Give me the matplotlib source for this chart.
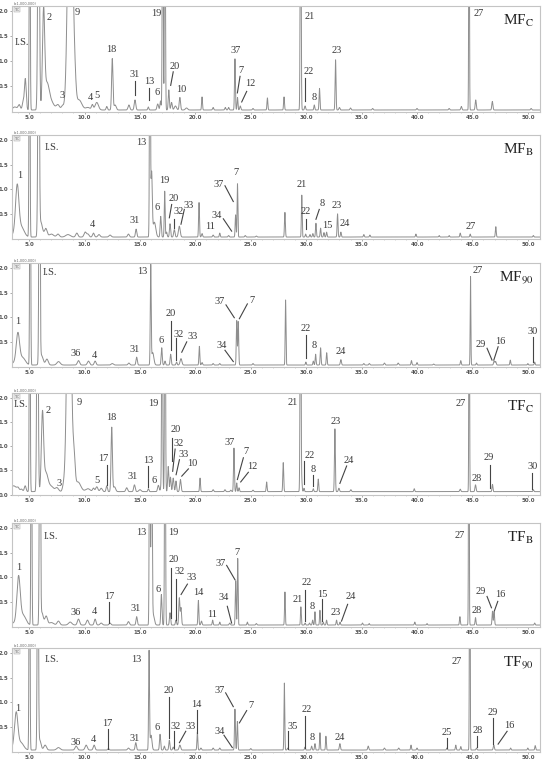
import numpy as np
import matplotlib
matplotlib.use("Agg")
import matplotlib.pyplot as plt

plt.rcParams['mathtext.fontset'] = 'stix'

# ---------------------------------------------------------
# peak tables: (time min, height x1e6, sigma min)
# heights > 2.1 are off scale (clipped at the frame)
# ---------------------------------------------------------
mfc_peaks = [(3.7, 0.06, 0.2), (4.1, 0.1, 0.1), (4.45, 0.15, 0.08), (4.65, 0.62, 0.08),
             (5.05, 6, 0.04), (5.85, 6, 0.07), (6.3, 1.9, 0.1), (6.6, 0.5, 0.2), (7.0, 0.15, 0.25),
             (7.6, 0.1, 0.15), (8.0, 0.08, 0.1), (8.7, 6, 0.2), (9.1, 0.45, 0.12), (9.5, 0.2, 0.25),
             (10.3, 0.05, 0.2), (10.7, 0.1, 0.08), (11.1, 0.15, 0.15), (12.0, 0.07, 0.06),
             (12.5, 1.02, 0.06), (12.75, 0.1, 0.1), (14.0, 0.1, 0.08), (14.55, 0.2, 0.07),
             (15.75, 0.06, 0.05), (16.6, 0.12, 0.07), (16.85, 0.18, 0.05), (17.05, 6, 0.04),
             (17.25, 6, 0.04), (17.6, 0.4, 0.05), (17.85, 0.15, 0.06), (18.2, 0.08, 0.1),
             (18.6, 0.25, 0.06), (19.2, 0.04, 0.1), (20.6, 0.26, 0.04), (21.6, 0.05, 0.05),
             (22.7, 0.05, 0.05), (23.0, 0.05, 0.05), (23.57, 1.02, 0.04), (23.8, 0.25, 0.04),
             (24.05, 0.08, 0.05), (25.2, 0.03, 0.05), (26.5, 0.24, 0.04), (28.0, 0.26, 0.04),
             (29.5, 6, 0.04), (29.9, 0.08, 0.05), (30.73, 0.1, 0.04), (31.2, 0.43, 0.04),
             (32.65, 1.0, 0.04), (33.0, 0.05, 0.05), (34.0, 0.04, 0.05), (36.0, 0.03, 0.05),
             (40.0, 0.03, 0.05), (42.9, 0.03, 0.05), (44.0, 0.07, 0.05), (44.7, 6, 0.03),
             (45.3, 0.2, 0.05), (46.8, 0.17, 0.05), (50.3, 0.03, 0.05)]

mfb_peaks = [(3.6, 0.05, 0.2), (3.92, 1.0, 0.15), (4.3, 0.2, 0.25), (5.03, 6, 0.04),
             (5.85, 6, 0.06), (6.05, 0.3, 0.15), (6.5, 0.17, 0.12), (7.0, 0.06, 0.2),
             (7.6, 0.06, 0.12), (8.5, 0.05, 0.2), (9.3, 0.08, 0.1), (10.05, 0.1, 0.1),
             (10.3, 0.06, 0.1), (10.8, 0.08, 0.08), (11.3, 0.05, 0.1), (12.3, 0.04, 0.1),
             (13.96, 0.06, 0.08), (14.65, 0.16, 0.06), (15.9, 6, 0.04), (16.05, 1.3, 0.06),
             (16.3, 0.3, 0.12), (16.87, 0.42, 0.05), (17.23, 0.93, 0.04), (17.4, 0.1, 0.05),
             (17.71, 0.27, 0.05), (18.1, 0.15, 0.06), (18.55, 0.22, 0.08), (20.33, 0.7, 0.04),
             (20.6, 0.07, 0.05), (21.6, 0.04, 0.05), (22.2, 0.08, 0.04), (23.0, 0.03, 0.05),
             (23.63, 0.45, 0.04), (23.8, 1.08, 0.035), (24.5, 0.03, 0.05), (25.5, 0.02, 0.05),
             (28.08, 0.5, 0.04), (29.6, 0.85, 0.035), (29.95, 0.06, 0.04), (30.34, 0.05, 0.04),
             (30.6, 0.07, 0.04), (30.88, 0.28, 0.04), (31.3, 0.18, 0.04), (31.6, 0.09, 0.04),
             (31.84, 0.1, 0.04), (32.83, 0.47, 0.04), (33.13, 0.1, 0.04), (35.2, 0.05, 0.04),
             (35.75, 0.04, 0.04), (39.9, 0.06, 0.04), (42.0, 0.03, 0.04), (42.9, 0.03, 0.04),
             (43.9, 0.08, 0.04), (44.8, 0.06, 0.04), (47.11, 0.21, 0.04), (50.5, 0.03, 0.04)]

mf90_peaks = [(3.6, 0.04, 0.2), (3.98, 0.62, 0.15), (4.4, 0.15, 0.25), (5.09, 6, 0.04),
              (5.93, 6, 0.05), (6.1, 0.2, 0.15), (6.6, 0.12, 0.12), (7.65, 0.07, 0.15),
              (9.45, 0.09, 0.1), (10.35, 0.08, 0.1), (10.95, 0.08, 0.08), (12.5, 0.03, 0.1),
              (14.0, 0.04, 0.08), (14.7, 0.16, 0.06), (15.97, 2.0, 0.04), (16.15, 0.25, 0.1),
              (16.96, 0.35, 0.05), (17.26, 0.08, 0.05), (17.77, 0.22, 0.05), (18.3, 0.06, 0.05),
              (18.7, 0.13, 0.08), (20.36, 0.38, 0.04), (20.6, 0.05, 0.05), (21.6, 0.03, 0.05),
              (22.2, 0.03, 0.05), (23.73, 0.9, 0.04), (23.87, 0.88, 0.04), (25.2, 0.03, 0.05),
              (28.14, 1.32, 0.035), (29.97, 0.06, 0.04), (30.64, 0.08, 0.04), (30.85, 0.22, 0.04),
              (31.3, 0.35, 0.04), (31.85, 0.25, 0.04), (33.13, 0.11, 0.05), (35.2, 0.03, 0.05),
              (35.7, 0.03, 0.05), (37.06, 0.04, 0.05), (38.3, 0.04, 0.05), (39.5, 0.09, 0.04),
              (40.0, 0.05, 0.04), (41.5, 0.02, 0.05), (43.95, 0.09, 0.04), (44.83, 1.8, 0.03),
              (45.37, 0.04, 0.04), (46.96, 0.08, 0.05), (47.1, 0.07, 0.05), (48.42, 0.1, 0.04),
              (50.0, 0.03, 0.04), (50.62, 0.06, 0.04)]

tfc_peaks = [(3.6, 0.12, 0.25), (4.0, 0.06, 0.1), (4.3, 0.05, 0.1), (4.64, 0.12, 0.08),
             (5.05, 6, 0.04), (5.75, 6, 0.06), (6.2, 1.55, 0.1), (6.5, 0.4, 0.2), (7.0, 0.1, 0.2),
             (7.5, 0.08, 0.15), (8.1, 0.1, 0.1), (8.6, 6, 0.18), (9.05, 0.6, 0.1), (9.4, 0.2, 0.25),
             (10.3, 0.06, 0.2), (10.8, 0.07, 0.08), (11.1, 0.1, 0.1), (11.5, 0.07, 0.1),
             (12.0, 0.12, 0.06), (12.45, 1.33, 0.06), (12.7, 0.1, 0.1), (13.8, 0.08, 0.08),
             (14.5, 0.14, 0.07), (15.0, 0.04, 0.1), (15.76, 0.06, 0.05), (16.66, 0.13, 0.07),
             (16.9, 0.1, 0.05), (17.0, 6, 0.04), (17.26, 6, 0.04), (17.55, 0.52, 0.05),
             (17.75, 0.3, 0.05), (18.0, 0.28, 0.06), (18.25, 0.22, 0.05), (18.65, 0.25, 0.06),
             (20.42, 0.28, 0.04), (21.6, 0.04, 0.05), (22.67, 0.04, 0.05), (23.2, 0.03, 0.05),
             (23.48, 0.9, 0.04), (23.73, 0.18, 0.04), (23.94, 0.08, 0.04), (25.2, 0.03, 0.05),
             (26.43, 0.2, 0.04), (27.93, 0.6, 0.04), (29.49, 6, 0.04), (29.6, 0.2, 0.04),
             (29.8, 0.07, 0.04), (30.64, 0.06, 0.04), (31.09, 0.26, 0.04), (32.59, 1.3, 0.04),
             (32.95, 0.07, 0.05), (34.03, 0.04, 0.05), (39.75, 0.06, 0.04), (43.9, 0.05, 0.05),
             (44.71, 6, 0.03), (45.28, 0.14, 0.05), (46.81, 0.15, 0.04), (50.5, 0.04, 0.04)]

tfb_peaks = [(3.6, 0.04, 0.2), (4.04, 0.95, 0.15), (4.45, 0.2, 0.25), (5.2, 6, 0.04),
             (5.97, 6, 0.05), (6.15, 0.25, 0.12), (6.53, 0.18, 0.12), (7.0, 0.05, 0.2),
             (7.64, 0.08, 0.12), (8.7, 0.06, 0.15), (9.45, 0.12, 0.1), (10.26, 0.1, 0.1),
             (10.95, 0.12, 0.08), (11.5, 0.04, 0.1), (12.3, 0.04, 0.08), (13.96, 0.07, 0.08),
             (14.7, 0.17, 0.06), (15.88, 6, 0.04), (16.05, 4, 0.05), (16.2, 0.2, 0.1),
             (16.93, 0.62, 0.05), (17.26, 6, 0.04), (17.71, 0.25, 0.05), (18.25, 0.1, 0.05),
             (18.55, 0.55, 0.05), (18.7, 0.35, 0.05), (20.27, 0.5, 0.04), (20.55, 0.08, 0.05),
             (21.56, 0.1, 0.04), (22.2, 0.06, 0.04), (23.1, 0.04, 0.05), (23.64, 0.9, 0.04),
             (23.82, 1.35, 0.035), (24.69, 0.06, 0.04), (25.5, 0.03, 0.05), (28.08, 0.67, 0.035),
             (29.52, 0.37, 0.035), (29.9, 0.04, 0.04), (30.3, 0.04, 0.04), (30.58, 0.1, 0.04),
             (30.79, 0.27, 0.035), (31.24, 0.3, 0.035), (31.54, 0.06, 0.04), (31.84, 0.1, 0.04),
             (32.74, 0.1, 0.04), (33.05, 0.06, 0.04), (35.08, 0.04, 0.04), (35.68, 0.03, 0.04),
             (39.8, 0.06, 0.04), (40.9, 0.03, 0.04), (43.87, 0.17, 0.04), (44.68, 6, 0.03),
             (45.28, 0.15, 0.04), (46.81, 0.28, 0.04), (46.96, 0.28, 0.04), (50.62, 0.04, 0.04)]

tf90_peaks = [(3.6, 0.04, 0.2), (3.83, 0.72, 0.15), (4.25, 0.15, 0.25), (5.03, 6, 0.04),
              (5.78, 6, 0.05), (5.95, 0.2, 0.12), (6.44, 0.1, 0.12), (7.64, 0.05, 0.15),
              (9.24, 0.08, 0.1), (10.14, 0.1, 0.1), (10.86, 0.1, 0.08), (12.15, 0.03, 0.06),
              (13.96, 0.04, 0.08), (14.62, 0.15, 0.06), (15.82, 2.0, 0.04), (16.0, 0.3, 0.08),
              (16.81, 0.32, 0.05), (17.2, 0.08, 0.05), (17.65, 0.2, 0.05), (18.0, 0.06, 0.05),
              (18.6, 0.1, 0.07), (20.18, 0.36, 0.04), (20.5, 0.04, 0.05), (21.6, 0.04, 0.05),
              (22.2, 0.04, 0.05), (23.57, 0.83, 0.04), (23.79, 0.58, 0.04), (25.0, 0.03, 0.05),
              (28.03, 1.36, 0.035), (28.33, 0.04, 0.04), (29.89, 0.06, 0.04), (30.49, 0.08, 0.04),
              (30.79, 0.13, 0.04), (31.24, 0.35, 0.035), (31.78, 0.28, 0.035), (33.04, 0.13, 0.05),
              (35.6, 0.08, 0.05), (37.06, 0.04, 0.05), (38.35, 0.04, 0.05), (39.46, 0.1, 0.04),
              (40.0, 0.04, 0.04), (42.7, 0.04, 0.04), (43.5, 0.1, 0.04), (43.95, 0.07, 0.04),
              (44.76, 6, 0.03), (45.37, 0.04, 0.04), (46.93, 0.1, 0.05), (48.45, 0.04, 0.04),
              (50.0, 0.04, 0.04), (50.67, 0.09, 0.04)]

# ---------------------------------------------------------
# peak labels: (text, time, height, leader line (t1, y1, t2, y2) or None)
# ---------------------------------------------------------
mfc_labels = [("I.S.", 4.34, 1.37, None), ("2", 6.8, 1.87, None), ("9", 9.36, 1.97, None),
              ("19", 16.45, 1.95, None), ("18", 12.45, 1.23, None), ("3", 7.95, 0.32, None),
              ("4", 10.5, 0.28, None), ("5", 11.16, 0.32, None),
              ("31", 14.56, 0.73, (14.56, 0.6, 14.56, 0.33)),
              ("13", 15.82, 0.6, (15.8, 0.47, 15.8, 0.23)), ("6", 16.57, 0.37, None),
              ("20", 18.17, 0.89, (18.0, 0.79, 17.77, 0.52)), ("10", 18.77, 0.43, None),
              ("37", 23.67, 1.22, None), ("7", 24.09, 0.81, (24.03, 0.7, 23.79, 0.37)),
              ("12", 24.93, 0.55, (24.63, 0.4, 24.18, 0.19)), ("21", 30.34, 1.9, None),
              ("27", 45.61, 1.95, None), ("22", 30.25, 0.8, (29.89, 0.67, 29.89, 0.2)),
              ("8", 30.7, 0.27, None), ("23", 32.74, 1.21, None)]

mfb_labels = [("I.S.", 7.04, 1.85, None), ("1", 4.19, 1.27, None), ("13", 15.16, 1.95, None),
              ("19", 17.2, 1.17, None), ("6", 16.51, 0.62, None),
              ("20", 18.01, 0.81, (17.86, 0.69, 17.65, 0.42)),
              ("32", 18.53, 0.55, (18.07, 0.4, 18.07, 0.22)),
              ("33", 19.37, 0.67, (19.0, 0.59, 18.7, 0.29)), ("4", 10.74, 0.29, None),
              ("31", 14.56, 0.37, None), ("11", 21.32, 0.24, None),
              ("34", 21.92, 0.47, (22.52, 0.4, 23.27, 0.15)),
              ("37", 22.13, 1.1, (22.67, 1.07, 23.42, 0.75)), ("7", 23.64, 1.33, None),
              ("21", 29.6, 1.1, None), ("22", 29.95, 0.55, (29.95, 0.39, 29.95, 0.19)),
              ("8", 31.45, 0.72, (31.18, 0.59, 30.88, 0.39)), ("15", 31.93, 0.27, None),
              ("23", 32.74, 0.67, None), ("24", 33.5, 0.31, None), ("27", 44.86, 0.24, None)]

mf90_labels = [("I.S.", 6.89, 1.91, None), ("1", 3.95, 0.91, None), ("13", 15.25, 1.93, None),
               ("36", 9.2, 0.27, None), ("4", 10.89, 0.22, None), ("31", 14.56, 0.35, None),
               ("6", 16.9, 0.53, None), ("20", 17.8, 1.07, (17.8, 0.93, 17.8, 0.33)),
               ("32", 18.53, 0.65, (18.26, 0.57, 18.26, 0.13)),
               ("33", 19.73, 0.6, (19.22, 0.5, 18.77, 0.29)),
               ("34", 22.37, 0.43, (22.67, 0.33, 23.42, 0.1)),
               ("37", 22.22, 1.31, (22.76, 1.25, 23.51, 0.99)),
               ("7", 25.08, 1.33, (24.69, 1.27, 23.97, 0.97)),
               ("22", 29.94, 0.77, (29.97, 0.63, 29.97, 0.17)), ("8", 30.73, 0.43, None),
               ("24", 33.1, 0.31, None), ("27", 45.5, 1.95, None),
               ("29", 45.72, 0.45, (46.32, 0.37, 46.77, 0.13)),
               ("16", 47.5, 0.51, (47.32, 0.4, 46.93, 0.13)),
               ("30", 50.47, 0.71, (50.5, 0.6, 50.5, 0.1))]

tfc_labels = [("I.S.", 4.25, 1.86, None), ("2", 6.68, 1.74, None), ("9", 9.5, 1.91, None),
              ("19", 16.21, 1.88, None), ("18", 12.45, 1.59, None), ("3", 7.7, 0.23, None),
              ("5", 11.16, 0.28, None), ("17", 11.7, 0.74, (12.0, 0.62, 12.0, 0.19)),
              ("31", 14.35, 0.37, None), ("13", 15.76, 0.71, (15.7, 0.59, 15.7, 0.16)),
              ("6", 16.27, 0.28, None), ("20", 18.26, 1.34, (17.86, 1.17, 17.86, 0.69)),
              ("32", 18.53, 1.06, (18.17, 0.94, 17.95, 0.48)),
              ("33", 18.92, 0.83, (18.56, 0.72, 18.26, 0.41)),
              ("10", 19.76, 0.64, (19.37, 0.53, 18.77, 0.38)), ("37", 23.12, 1.08, None),
              ("7", 24.54, 0.88, (24.33, 0.76, 23.79, 0.31)),
              ("12", 25.14, 0.57, (24.78, 0.46, 24.09, 0.26)), ("21", 28.8, 1.9, None),
              ("22", 30.28, 0.81, (29.8, 0.69, 29.8, 0.21)),
              ("8", 30.64, 0.52, (30.64, 0.4, 30.64, 0.17)), ("23", 32.65, 1.52, None),
              ("24", 33.85, 0.7, (33.65, 0.59, 33.04, 0.23)), ("27", 43.95, 1.88, None),
              ("28", 45.37, 0.33, None), ("29", 46.51, 0.76, (46.57, 0.62, 46.57, 0.14)),
              ("30", 50.39, 0.57, (50.39, 0.45, 50.39, 0.12))]

tfb_labels = [("I.S.", 6.95, 1.83, None), ("1", 4.04, 1.19, None), ("13", 15.16, 1.9, None),
              ("19", 18.01, 1.9, None), ("36", 9.2, 0.28, None), ("4", 10.89, 0.3, None),
              ("17", 12.24, 0.61, (12.24, 0.5, 12.24, 0.07)), ("31", 14.62, 0.36, None),
              ("6", 16.6, 0.76, None), ("20", 18.07, 1.36, (17.77, 1.19, 17.77, 0.18)),
              ("32", 18.56, 1.12, (18.26, 0.97, 18.26, 0.14)),
              ("33", 19.67, 1.0, (19.28, 0.86, 18.71, 0.65)), ("14", 20.27, 0.68, None),
              ("11", 21.53, 0.24, None), ("34", 22.58, 0.59, (22.88, 0.41, 23.27, 0.07)),
              ("37", 22.28, 1.27, (22.82, 1.24, 23.57, 0.95)), ("7", 23.79, 1.51, None),
              ("21", 29.2, 0.55, None), ("22", 30.04, 0.89, (29.89, 0.75, 29.89, 0.11)),
              ("8", 30.58, 0.41, None), ("15", 31.45, 0.64, (31.4, 0.55, 31.4, 0.11)),
              ("23", 32.65, 0.28, None), ("24", 34.03, 0.6, (33.74, 0.45, 33.19, 0.11)),
              ("27", 43.87, 1.85, None), ("28", 45.37, 0.33, None),
              ("29", 45.72, 0.72, (46.32, 0.61, 46.72, 0.38)),
              ("16", 47.5, 0.64, (47.29, 0.51, 46.99, 0.32))]

tf90_labels = [("I.S.", 7.04, 1.86, None), ("1", 3.95, 0.88, None), ("13", 14.65, 1.86, None),
               ("36", 9.2, 0.18, None), ("4", 10.8, 0.25, None),
               ("17", 12.06, 0.57, (12.09, 0.45, 12.09, 0.05)), ("31", 14.56, 0.26, None),
               ("6", 16.57, 0.48, None), ("20", 17.62, 1.23, (17.62, 1.11, 17.62, 0.28)),
               ("32", 18.26, 0.5, (18.07, 0.41, 18.07, 0.08)),
               ("33", 19.58, 0.5, (19.13, 0.41, 18.56, 0.18)),
               ("14", 20.12, 0.95, (20.12, 0.85, 20.12, 0.38)),
               ("34", 22.22, 0.41, (22.58, 0.33, 23.33, 0.08)),
               ("37", 22.22, 1.23, (22.73, 1.19, 23.42, 0.91)),
               ("7", 24.99, 0.93, (24.63, 0.83, 23.97, 0.58)),
               ("35", 28.78, 0.51, (28.33, 0.41, 28.33, 0.05)),
               ("22", 30.04, 0.86, (29.89, 0.73, 29.89, 0.08)), ("8", 30.58, 0.28, None),
               ("24", 33.04, 0.28, None), ("25", 42.7, 0.38, (42.7, 0.28, 42.7, 0.08)),
               ("27", 43.57, 1.83, None), ("28", 45.52, 0.43, (45.37, 0.31, 45.37, 0.1)),
               ("29", 46.88, 0.79, (46.88, 0.68, 46.88, 0.15)),
               ("16", 48.32, 0.53, (48.13, 0.41, 47.32, 0.15))]

panel_names = [("MF", "C"), ("MF", "B"), ("MF", "90"), ("TF", "C"), ("TF", "B"), ("TF", "90")]
panel_peaks = [mfc_peaks, mfb_peaks, mf90_peaks, tfc_peaks, tfb_peaks, tf90_peaks]
panel_labels = [mfc_labels, mfb_labels, mf90_labels, tfc_labels, tfb_labels, tf90_labels]
panel_base = [0.03, 0.03, 0.03, 0.06, 0.03, 0.03]


def trace(peaks, base, t):
    y = np.full_like(t, base)
    for t0, h, w in peaks:
        y += h * np.exp(-0.5 * ((t - t0) / w) ** 2)
    return y


# ---------------------------------------------------------
# figure: 6 stacked chromatograms
# ---------------------------------------------------------
W, H = 548, 762
fig = plt.figure(figsize=(W / 100, H / 100), dpi=100)
tops = [6, 135, 263, 393, 523, 648]
bottoms = [112, 239, 367, 495, 627, 752]
t = np.arange(3.3, 51.3, 0.004)

frame_col = '#c4c4c4'
line_col = '#8e8e8e'
txt_col = '#3a3a3a'

for i in range(6):
    ax = fig.add_axes([12 / W, 1 - bottoms[i] / H, 528 / W, (bottoms[i] - tops[i]) / H])
    ax.plot(t, trace(panel_peaks[i], panel_base[i], t), color=line_col, lw=0.7)
    ax.set_xlim(3.45, 51.1)
    ax.set_ylim(-0.01, 2.1)

    for s in ax.spines.values():
        s.set_color(frame_col)
        s.set_linewidth(0.8)
    ax.set_xticks(np.arange(5, 51, 5))
    ax.set_xticklabels(["%.1f" % v for v in np.arange(5, 51, 5)])
    ax.set_xticks(np.arange(4, 51, 1), minor=True)
    if i == 3:
        ax.set_yticks([0.0, 0.5, 1.0, 1.5, 2.0])
    else:
        ax.set_yticks([0.5, 1.0, 1.5, 2.0])
    ax.tick_params(axis='both', which='major', length=1.5, width=0.5, color='#888888',
                   labelsize=4, labelcolor='#555555', pad=1)
    ax.tick_params(axis='both', which='minor', length=0.8, width=0.4, color='#aaaaaa')
    ax.tick_params(axis='y', which='minor', left=False)
    for lab in ax.get_xticklabels() + ax.get_yticklabels():
        lab.set_fontweight('bold')

    # instrument tags
    ax.text(0.003, 1.0, "(x1,000,000)", transform=ax.transAxes, fontsize=2.5,
            color='#666666', va='bottom', ha='left')
    ax.text(0.005, 0.985, "TIC", transform=ax.transAxes, fontsize=2.3, color='#666666',
            va='top', ha='left',
            bbox=dict(boxstyle='square,pad=0.1', fc='#eeeeee', ec='#999999', lw=0.3))

    for text, x, y, ln in panel_labels[i]:
        ax.text(x, y, text, fontsize=7.5, family='Liberation Serif', color=txt_col,
                ha='center', va='center')
        if ln is not None:
            ax.plot([ln[0], ln[2]], [ln[1], ln[3]], color='#444444', lw=0.8)

    name, sub = panel_names[i]
    ax.text(0.988, 0.86, name + r"$_{\mathrm{" + sub + "}}$", transform=ax.transAxes,
            fontsize=11, family='Liberation Serif', color='#222222', ha='right', va='center')

fig.savefig("out.png", dpi=100)
